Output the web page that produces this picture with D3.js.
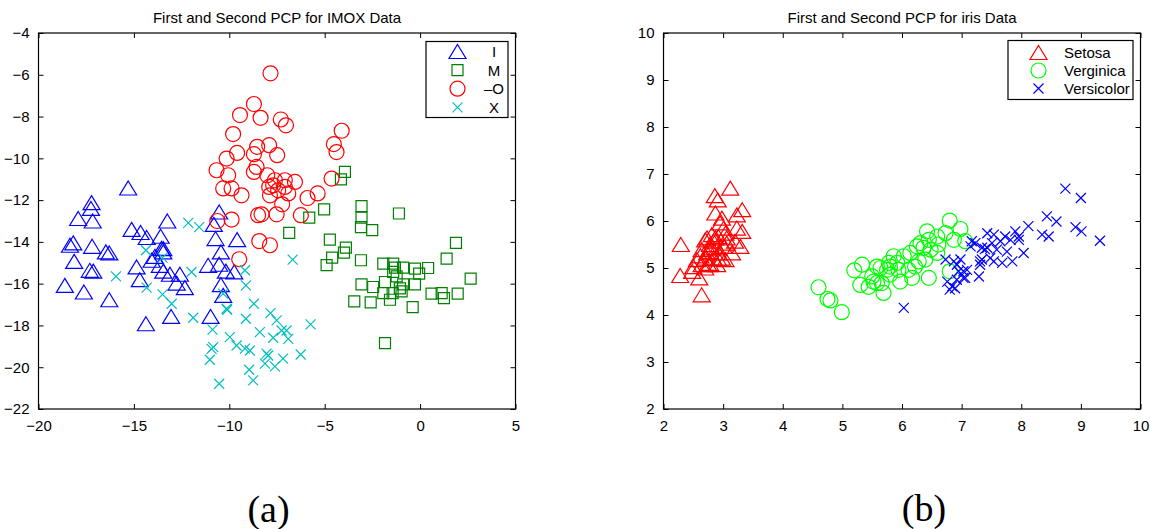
<!DOCTYPE html>
<html>
<head>
<meta charset="utf-8">
<script src="https://cdn.jsdelivr.net/npm/d3@7"></script>
<style>
  html, body { margin: 0; padding: 0; background: #fff; }
  svg { display: block; }
  text { font-family: "Liberation Sans", Arial, Helvetica, sans-serif; fill: #000; }
  .caption { font-family: "Liberation Serif", "Times New Roman", serif; }
</style>
</head>
<body>
<svg id="fig" width="1150" height="529"></svg>
<script>
// ---- IMOX data: first and second principal components, per class ----
const imoxI = [
  [-15.30,-11.42],[-17.22,-12.12],[-17.25,-12.40],[-17.92,-12.88],[-17.16,-13.00],
  [-18.18,-14.05],[-18.35,-14.16],[-17.19,-14.21],[-16.47,-14.48],[-16.29,-14.53],
  [-18.13,-14.93],[-17.31,-15.36],[-17.13,-15.40],[-18.62,-16.08],[-17.62,-16.40],
  [-16.29,-16.77],[-15.12,-13.40],[-14.65,-13.55],[-14.33,-13.79],[-13.60,-13.73],
  [-13.25,-13.00],[-13.46,-14.32],[-13.46,-14.48],[-13.90,-14.69],[-14.86,-15.20],
  [-14.69,-15.81],[-14.07,-14.88],[-13.64,-15.12],[-13.46,-15.40],[-13.11,-15.55],
  [-12.59,-15.55],[-12.76,-15.97],[-12.33,-16.19],[-14.37,-17.92],[-13.05,-17.57],
  [-10.98,-17.57],[-10.53,-12.57],[-10.81,-13.16],[-10.72,-13.84],[-9.59,-13.89],
  [-10.44,-14.48],[-11.11,-15.12],[-10.53,-15.07],[-10.18,-15.40],[-9.74,-15.44],
  [-10.44,-16.05],[-10.32,-16.56],[-13.55,-14.31]
];
const imoxM = [
  [-3.94,-10.65],[-4.15,-11.01],[-5.03,-12.44],[-5.81,-12.84],[-3.07,-12.29],
  [-3.07,-12.84],[-3.10,-13.29],[-2.51,-13.44],[-1.11,-12.64],[-6.86,-13.57],
  [-4.73,-13.89],[-3.89,-14.27],[-3.99,-14.51],[-4.61,-14.75],[-4.90,-15.11],
  [-3.10,-14.88],[1.88,-14.05],[1.39,-14.80],[-1.93,-15.04],[-1.41,-15.04],
  [-1.32,-15.23],[-0.89,-15.23],[-1.41,-15.44],[-0.27,-15.28],[-0.05,-15.52],
  [0.42,-15.25],[-1.23,-15.65],[2.65,-15.76],[-3.07,-16.03],[-2.46,-16.16],
  [-1.84,-15.92],[-0.89,-16.03],[-0.27,-16.03],[-1.93,-16.45],[-1.44,-16.45],
  [-0.97,-16.37],[-1.58,-16.77],[0.60,-16.48],[1.13,-16.45],[1.25,-16.69],
  [1.97,-16.48],[-3.45,-16.85],[-2.59,-16.90],[-0.39,-17.12],[-1.84,-18.85],
  [-1.06,-16.23]
];
const imoxO = [
  [-7.84,-5.93],[-8.71,-7.40],[-9.44,-7.93],[-8.36,-8.06],[-7.30,-8.14],
  [-7.03,-8.42],[-9.80,-8.84],[-4.11,-8.68],[-4.52,-9.32],[-4.38,-9.70],
  [-8.54,-9.45],[-7.91,-9.37],[-9.59,-9.74],[-10.14,-10.01],[-7.49,-9.85],
  [-8.71,-9.80],[-8.57,-10.41],[-10.67,-10.57],[-10.06,-10.81],[-8.71,-10.65],
  [-8.01,-10.81],[-7.61,-11.05],[-7.70,-11.29],[-7.09,-11.05],[-6.56,-11.13],
  [-4.64,-10.97],[-10.32,-11.44],[-9.88,-11.44],[-9.36,-11.77],[-7.87,-11.77],
  [-6.91,-11.68],[-5.90,-11.90],[-5.37,-11.68],[-7.23,-12.20],[-8.49,-12.72],
  [-8.31,-12.68],[-7.52,-12.68],[-6.25,-12.72],[-9.88,-12.93],[-10.63,-13.00],
  [-8.43,-13.96],[-7.87,-14.16],[-9.48,-14.83],[-7.44,-11.53],[-7.91,-11.37],
  [-7.09,-11.37]
];
const imoxX = [
  [-12.15,-13.09],[-11.58,-13.29],[-14.37,-14.40],[-13.50,-14.75],[-15.94,-15.65],
  [-14.33,-16.19],[-13.50,-16.51],[-13.02,-16.96],[-11.98,-15.44],[-11.89,-17.63],
  [-10.88,-18.20],[-10.93,-19.12],[-11.02,-19.64],[-10.53,-20.79],[-9.97,-18.56],
  [-9.62,-18.96],[-8.92,-19.20],[-8.96,-20.12],[-8.75,-20.63],[-8.05,-19.35],
  [-7.61,-19.96],[-7.18,-19.59],[-8.40,-18.32],[-7.84,-17.41],[-7.52,-17.76],
  [-9.13,-17.68],[-8.71,-16.96],[-9.18,-15.36],[-9.13,-16.08],[-10.14,-17.20],
  [-10.32,-16.48],[-6.68,-14.85],[-5.74,-17.95],[-7.26,-18.24],[-7.00,-18.24],
  [-6.91,-18.64],[-7.70,-18.59],[-9.18,-19.11],[-7.96,-19.44],[-6.26,-19.39],
  [-8.13,-19.83],[-10.84,-19.04],[-10.11,-17.25]
];

// ---- iris data: first and second principal components, per species ----
const irisSetosa = [
  [3.12,6.70],[2.86,6.54],[2.91,6.45],[3.32,6.24],[3.23,6.13],[2.87,6.17],
  [3.32,5.78],[3.23,5.85],[2.29,5.50],[2.95,5.96],[3.01,5.85],[2.73,5.64],
  [2.81,5.71],[2.92,5.67],[3.06,5.64],[3.20,5.57],[2.64,5.39],[2.78,5.43],
  [2.90,5.43],[3.01,5.46],[3.15,5.32],[3.29,5.46],[2.56,5.18],[2.70,5.21],
  [2.84,5.21],[2.98,5.21],[2.64,5.07],[2.76,5.07],[2.90,5.07],[3.04,5.18],
  [2.50,5.03],[2.28,4.84],[2.48,4.93],[2.60,4.79],[2.64,4.43],[2.78,5.35],
  [2.84,5.57],[2.92,5.32],[2.70,5.60],[2.98,6.06],[3.04,5.74],[2.78,5.10],
  [2.62,5.26],[2.73,5.32],[2.92,5.19],[2.70,5.00],[3.06,5.53],[2.87,5.64],
  [2.78,5.50]
];
const irisVerginica = [
  [4.60,4.59],[4.75,4.34],[4.80,4.31],[4.99,4.06],[5.20,4.95],[5.33,5.07],
  [5.30,4.64],[5.44,4.60],[5.52,4.71],[5.69,4.47],[5.66,4.68],[5.64,5.00],
  [5.75,4.96],[5.80,5.03],[5.86,5.25],[5.97,4.71],[5.94,4.96],[6.11,4.96],
  [6.17,4.79],[6.14,5.32],[6.25,5.46],[6.28,5.14],[6.31,5.53],[6.39,5.18],
  [6.42,5.78],[6.45,5.60],[6.45,4.79],[6.59,5.67],[6.59,5.32],[6.61,5.50],
  [6.73,5.74],[6.80,6.01],[6.98,5.83],[7.06,5.57],[6.87,5.60],[5.50,4.82],
  [5.80,4.86],[5.58,5.03],[6.03,5.25],[6.48,5.39],[5.78,5.11],[6.22,5.03],
  [6.80,4.93],[5.92,5.11],[6.36,5.43],[5.58,4.68]
];
const irisVersicolor = [
  [6.03,4.15],[6.73,5.18],[6.87,5.14],[6.92,5.07],[6.95,4.93],[6.76,4.71],
  [6.84,4.61],[6.80,4.54],[7.06,4.79],[7.17,5.57],[7.43,5.74],[7.34,5.43],
  [7.43,5.43],[7.29,4.82],[7.31,5.14],[7.03,4.93],[8.74,6.69],[9.00,6.49],
  [8.43,6.10],[8.59,5.99],[8.91,5.87],[9.01,5.78],[9.32,5.58],[8.12,5.89],
  [8.35,5.71],[8.46,5.67],[7.90,5.78],[7.96,5.67],[7.82,5.60],[7.73,5.67],
  [7.65,5.57],[7.54,5.71],[7.51,5.53],[7.39,5.40],[7.23,5.53],[7.15,5.46],
  [8.04,5.32],[7.85,5.14],[7.68,5.11],[7.54,5.14],[7.48,5.21],[7.34,5.18],
  [7.31,5.07],[7.09,4.96],[7.03,4.79],[6.92,4.75],[6.89,4.57],[6.98,5.18],
  [7.96,5.60],[7.76,5.35],[7.59,5.39]
];

// ---- axis ticks ----
const imoxXTicks = [-20, -15, -10, -5, 0, 5];
const imoxYTicks = [-22, -20, -18, -16, -14, -12, -10, -8, -6, -4];
const irisXTicks = [2, 3, 4, 5, 6, 7, 8, 9, 10];
const irisYTicks = [2, 3, 4, 5, 6, 7, 8, 9, 10];

// ---- titles, legends, captions ----
const imoxTitle = "First and Second PCP for IMOX Data";
const irisTitle = "First and Second PCP for iris Data";
const imoxLabels = ["I", "M", "\u2013O", "X"];
const irisLabels = ["Setosa", "Verginica", "Versicolor"];
const captions = ["(a)", "(b)"];

// ---- marker shapes ----
const markerPath = {
  triangle: () => "M0,-7L8.5,7L-8.5,7Z",
  square: () => "M-5.5,-5.5H5.5V5.5H-5.5Z",
  circle: () => "M7.5,0A7.5,7.5 0 1,1 -7.5,0A7.5,7.5 0 1,1 7.5,0Z",
  cross: () => "M-5,-5L5,5M-5,5L5,-5"
};

const svg = d3.select("#fig");
const FS = 15;

function panel(cfg) {
  const x = d3.scaleLinear().domain(cfg.xDomain).range([cfg.left, cfg.right]);
  const y = d3.scaleLinear().domain(cfg.yDomain).range([cfg.bottom, cfg.top]);
  const g = svg.append("g");
  const fmt = d3.format("");

  // series markers
  cfg.series.forEach(s => {
    g.append("g").selectAll("path").data(s.data).join("path")
      .attr("transform", d => `translate(${x(d[0])},${y(d[1])})`)
      .attr("d", markerPath[s.shape]())
      .attr("fill", "none")
      .attr("stroke", s.color)
      .attr("stroke-width", 1.2);
  });

  // inward ticks on all four sides
  const tl = 5;
  const bottomAxis = d3.axisBottom(x).tickValues(cfg.xTicks).tickSize(-tl).tickFormat(fmt).tickPadding(tl + 6);
  const topAxis = d3.axisTop(x).tickValues(cfg.xTicks).tickSize(-tl).tickFormat("");
  const leftAxis = d3.axisLeft(y).tickValues(cfg.yTicks).tickSize(-tl).tickFormat(fmt).tickPadding(tl + 4);
  const rightAxis = d3.axisRight(y).tickValues(cfg.yTicks).tickSize(-tl).tickFormat("");

  const ax = [
    g.append("g").attr("transform", `translate(0,${cfg.bottom})`).call(bottomAxis),
    g.append("g").attr("transform", `translate(0,${cfg.top})`).call(topAxis),
    g.append("g").attr("transform", `translate(${cfg.left},0)`).call(leftAxis),
    g.append("g").attr("transform", `translate(${cfg.right},0)`).call(rightAxis)
  ];
  ax.forEach(a => {
    a.select(".domain").remove();
    a.selectAll(".tick line").attr("stroke", "#000").attr("stroke-width", 1);
    a.selectAll("text").attr("font-size", FS).attr("font-family", null).attr("fill", "#000");
  });

  // axes box
  g.append("rect")
    .attr("x", cfg.left).attr("y", cfg.top)
    .attr("width", cfg.right - cfg.left).attr("height", cfg.bottom - cfg.top)
    .attr("fill", "none").attr("stroke", "#000").attr("stroke-width", 1.2);

  // title
  g.append("text")
    .attr("x", (cfg.left + cfg.right) / 2).attr("y", 23)
    .attr("text-anchor", "middle").attr("font-size", FS)
    .text(cfg.title);

  // legend
  const lg = cfg.legend;
  g.append("rect")
    .attr("x", lg.x).attr("y", lg.y).attr("width", lg.w).attr("height", lg.h)
    .attr("fill", "#fff").attr("stroke", "#000").attr("stroke-width", 1.2);
  cfg.series.forEach((s, i) => {
    const cy = lg.y + lg.first + i * lg.step;
    g.append("path")
      .attr("transform", `translate(${lg.markerX},${cy})`)
      .attr("d", markerPath[s.shape]())
      .attr("fill", "none").attr("stroke", s.color).attr("stroke-width", 1.2);
    g.append("text")
      .attr("x", lg.textX).attr("y", cy).attr("dy", "0.36em")
      .attr("text-anchor", lg.anchor).attr("font-size", FS)
      .text(s.label);
  });

  // sub-figure caption
  svg.append("text").attr("class", "caption")
    .attr("x", cfg.captionX).attr("y", cfg.captionY)
    .attr("text-anchor", "middle").attr("font-size", 38)
    .text(cfg.caption);
}

panel({
  left: 38.5, right: 515.5, top: 33, bottom: 409,
  xDomain: [-20, 5], yDomain: [-22, -4],
  xTicks: imoxXTicks, yTicks: imoxYTicks,
  title: imoxTitle,
  series: [
    { data: imoxI, shape: "triangle", color: "#0000ff", label: imoxLabels[0] },
    { data: imoxM, shape: "square", color: "#008000", label: imoxLabels[1] },
    { data: imoxO, shape: "circle", color: "#ff0000", label: imoxLabels[2] },
    { data: imoxX, shape: "cross", color: "#00bfbf", label: imoxLabels[3] }
  ],
  legend: { x: 426, y: 41.5, w: 82, h: 76, first: 10, step: 18.6, markerX: 457.5, textX: 494, anchor: "middle" },
  caption: captions[0], captionX: 268.5, captionY: 521.5
});

panel({
  left: 663.5, right: 1140.5, top: 33, bottom: 409,
  xDomain: [2, 10], yDomain: [2, 10],
  xTicks: irisXTicks, yTicks: irisYTicks,
  title: irisTitle,
  series: [
    { data: irisSetosa, shape: "triangle", color: "#ff0000", label: irisLabels[0] },
    { data: irisVerginica, shape: "circle", color: "#00ff00", label: irisLabels[1] },
    { data: irisVersicolor, shape: "cross", color: "#0000ff", label: irisLabels[2] }
  ],
  legend: { x: 1008, y: 40.5, w: 125, h: 59, first: 12, step: 18, markerX: 1038.5, textX: 1064, anchor: "start" },
  caption: captions[1], captionX: 924, captionY: 520.5
});
</script>
</body>
</html>
